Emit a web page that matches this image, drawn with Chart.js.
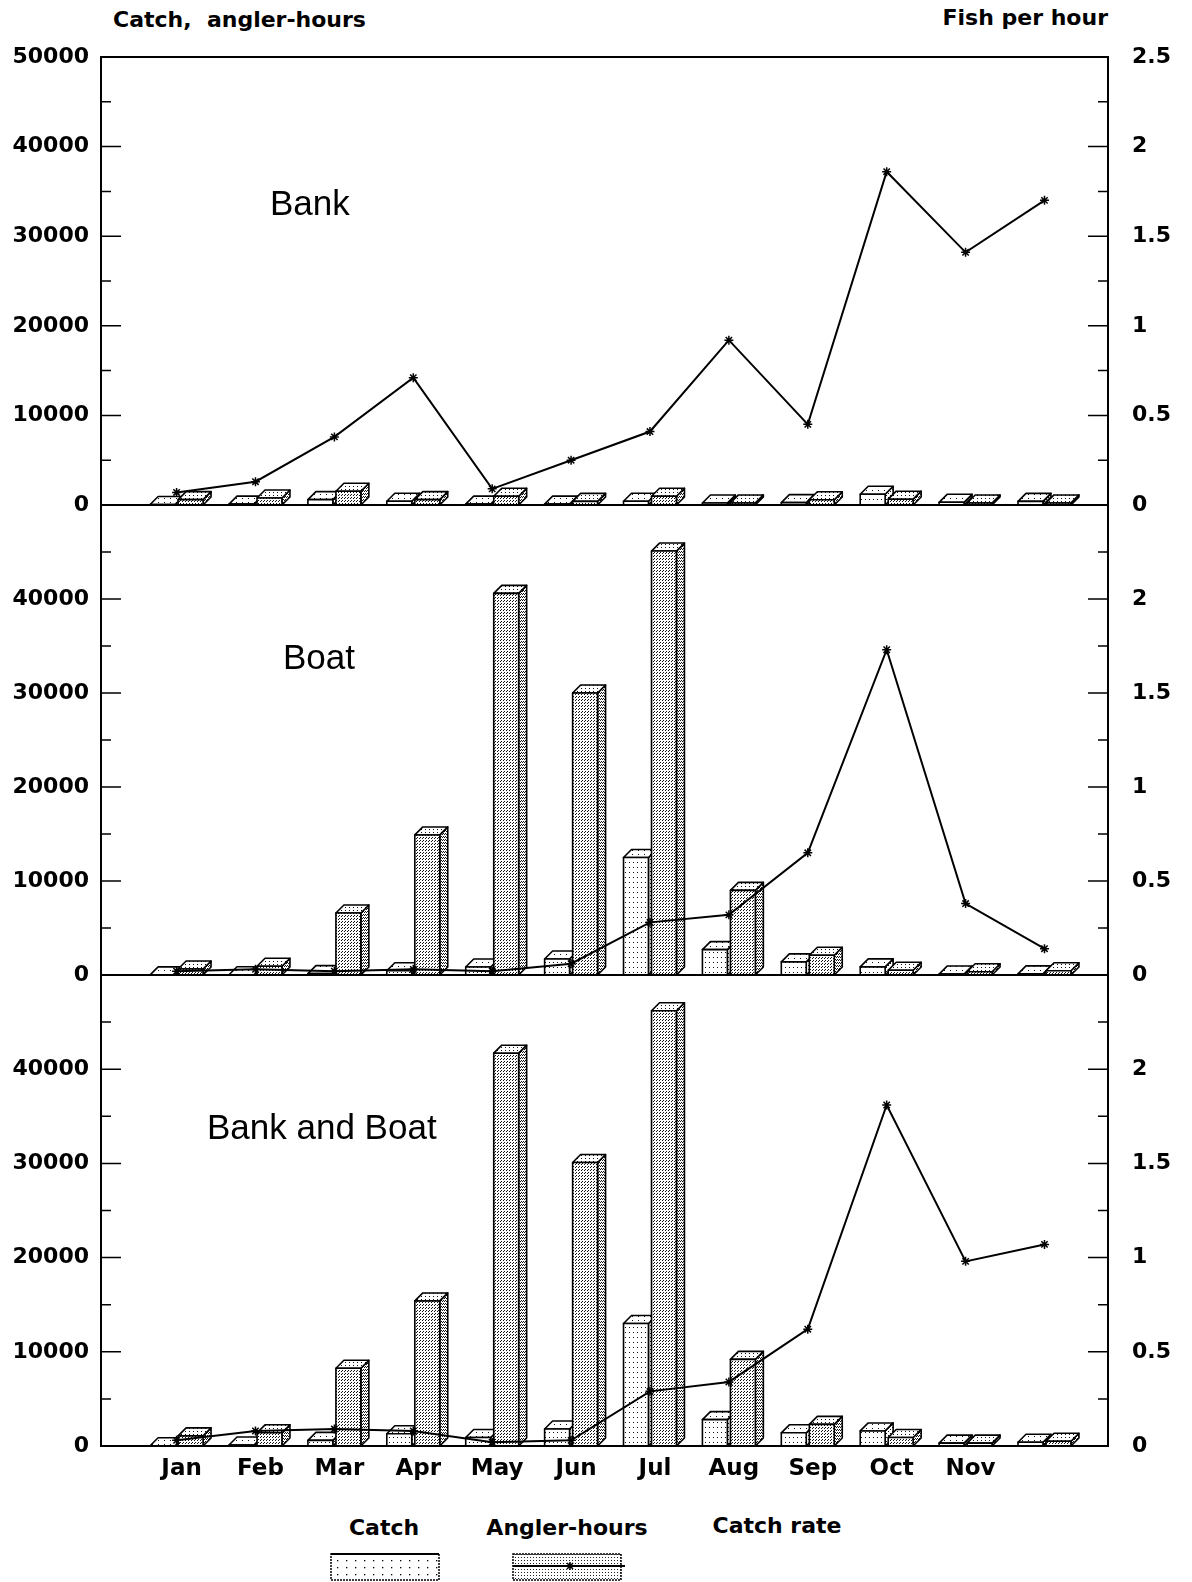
<!DOCTYPE html>
<html lang="en">
<head>
<meta charset="UTF-8" />
<title>Catch, angler-hours and catch rate by month</title>
<script src="https://cdn.jsdelivr.net/npm/chart.js"></script>
<style>
    body { margin: 0; background: #fff; }
    #page { position: relative; width: 1192px; height: 1582px; overflow: hidden; font-family: 'DejaVu Sans', sans-serif; color: #000; }
    .panel { position: absolute; left: 0; }
    .txt { position: absolute; white-space: pre; font-weight: bold; font-size: 22px; line-height: 30px; height: 30px; }
    .title { position: absolute; white-space: pre; font-family: 'Liberation Sans', Arial, sans-serif; font-size: 35px; line-height: 40px; height: 40px; }
</style>
</head>
<body>
<div id="page">
    <div class="txt" style="left:113px; top:5px;">Catch,  angler-hours</div>
    <div class="txt" style="right:84px; top:3px;">Fish per hour</div>

    <canvas id="bankChart" class="panel" width="1192" height="528" style="top:17px"></canvas>
    <canvas id="boatChart" class="panel" width="1192" height="550" style="top:465px"></canvas>
    <canvas id="allChart" class="panel" width="1192" height="561" style="top:935px"></canvas>

    <div class="title" style="left:270px; top:183px;">Bank</div>
    <div class="title" style="left:283px; top:637px;">Boat</div>
    <div class="title" style="left:207px; top:1107px;">Bank and Boat</div>

    <!-- legend -->
    <div class="txt" style="left:284px; width:200px; text-align:center; top:1513px;">Catch</div>
    <div class="txt" style="left:467px; width:200px; text-align:center; top:1513px;">Angler-hours</div>
    <div class="txt" style="left:677px; width:200px; text-align:center; top:1511px;">Catch rate</div>
    <svg style="position:absolute; left:325px; top:1550px;" width="310" height="32">
        <defs>
            <pattern id="dotsCatch" width="9" height="7" patternUnits="userSpaceOnUse">
                <rect x="3" y="3" width="1.3" height="1.3" fill="#000"/>
            </pattern>
            <pattern id="dotsAngler" width="3" height="3" patternUnits="userSpaceOnUse">
                <rect x="1" y="1" width="1" height="1" fill="#222"/>
            </pattern>
        </defs>
        <rect x="6" y="4" width="108" height="26" fill="url(#dotsCatch)" stroke="#000" stroke-width="1.5" stroke-dasharray="2 1"/>
        <line x1="6" y1="4" x2="114" y2="4" stroke="#000" stroke-width="2"/>
        <rect x="188" y="4" width="108" height="26" fill="url(#dotsAngler)" stroke="#000" stroke-width="1.5" stroke-dasharray="2 1"/>
        <line x1="188" y1="16" x2="300" y2="16" stroke="#000" stroke-width="2"/>
        <path d="M241 16 L249 16 M245 12 L245 20 M242 13 L248 19 M242 19 L248 13" stroke="#000" stroke-width="1.5"/>
    </svg>
</div>

<script>
    // months; the twelfth group carries no label in the original
    const months = ['Jan', 'Feb', 'Mar', 'Apr', 'May', 'Jun', 'Jul', 'Aug', 'Sep', 'Oct', 'Nov', ''];

    // Bank
    const bankCatch  = [50, 100, 600, 420, 100, 100, 420, 220, 260, 1200, 300, 400];
    const bankAngler = [600, 780, 1530, 600, 970, 400, 970, 230, 580, 650, 220, 230];
    const bankRate   = [0.07, 0.13, 0.38, 0.71, 0.09, 0.25, 0.41, 0.92, 0.45, 1.86, 1.41, 1.70];

    // Boat
    const boatCatch  = [15, 30, 150, 450, 850, 1700, 12500, 2700, 1400, 860, 100, 120];
    const boatAngler = [640, 925, 6600, 14900, 40600, 30000, 45100, 9000, 2100, 500, 350, 450];
    const boatRate   = [0.02, 0.03, 0.02, 0.03, 0.02, 0.06, 0.28, 0.32, 0.65, 1.73, 0.38, 0.14];

    // Bank and Boat
    const allCatch  = [30, 110, 600, 1300, 900, 1800, 13000, 2800, 1400, 1600, 300, 400];
    const allAngler = [1070, 1400, 8250, 15400, 41700, 30100, 46200, 9200, 2300, 900, 300, 500];
    const allRate   = [0.03, 0.08, 0.09, 0.08, 0.02, 0.03, 0.29, 0.34, 0.62, 1.81, 0.98, 1.07];

    // labelled ticks
    const leftTicks  = [0, 10000, 20000, 30000, 40000, 50000];
    const rightTicks = [0, 0.5, 1, 1.5, 2, 2.5];

    const DX = 8, DY = 8;   // 3d depth of the bars
    const tickFont = { family: 'DejaVu Sans', size: 22, weight: 'bold' };

    function dotPattern(ctx, w, h, dots) {
        const c = document.createElement('canvas');
        c.width = w; c.height = h;
        const g = c.getContext('2d');
        g.fillStyle = '#fff';
        g.fillRect(0, 0, w, h);
        g.fillStyle = '#111';
        dots.forEach(d => g.fillRect(d[0], d[1], 1, 1));
        return ctx.createPattern(c, 'repeat');
    }

    function face(ctx, pts, fill) {
        ctx.beginPath();
        ctx.moveTo(pts[0][0], pts[0][1]);
        for (let k = 1; k < pts.length; k++) ctx.lineTo(pts[k][0], pts[k][1]);
        ctx.closePath();
        ctx.fillStyle = fill;
        ctx.fill();
        ctx.stroke();
    }

    // draws the bars as boxes, from the geometry of the library's bar elements
    const boxes3d = {
        id: 'boxes3d',
        beforeDatasetsDraw(chart) {
            const ctx = chart.ctx;
            if (!chart.$fills) {
                chart.$fills = [
                    { front: dotPattern(ctx, 4, 5, [[1, 2]]), top: dotPattern(ctx, 6, 4, [[2, 1]]), side: dotPattern(ctx, 4, 4, [[0, 0], [2, 2]]) },
                    { front: dotPattern(ctx, 3, 3, [[0, 0], [2, 1]]), top: dotPattern(ctx, 4, 3, [[1, 1]]), side: dotPattern(ctx, 2, 3, [[0, 0], [1, 2]]) }
                ];
            }
            ctx.save();
            ctx.strokeStyle = '#000';
            ctx.lineWidth = 1.6;
            ctx.lineJoin = 'round';
            for (let i = 0; i < months.length; i++) {
                [0, 1].forEach(ds => {
                    const el = chart.getDatasetMeta(ds).data[i];
                    if (!el) return;
                    const p = el.getProps(['x', 'y', 'base', 'width'], true);
                    const x0 = p.x - p.width / 2, x1 = p.x + p.width / 2;
                    const top = Math.min(p.y, p.base), bot = p.base;
                    const f = chart.$fills[ds];
                    face(ctx, [[x1, bot], [x1 + DX, bot - DY], [x1 + DX, top - DY], [x1, top]], f.side);
                    face(ctx, [[x0, top], [x1, top], [x1 + DX, top - DY], [x0 + DX, top - DY]], f.top);
                    face(ctx, [[x0, bot], [x1, bot], [x1, top], [x0, top]], f.front);
                });
            }
            ctx.restore();
        }
    };

    // base line, top line and the inward tick marks
    const frame = {
        id: 'frame',
        afterDatasetsDraw(chart, args, opts) {
            const { ctx, chartArea: a, scales } = chart;
            ctx.save();
            ctx.strokeStyle = '#000';
            ctx.lineWidth = 2;
            ctx.beginPath();
            ctx.moveTo(a.left, a.bottom); ctx.lineTo(a.right, a.bottom);
            if (opts.top) { ctx.moveTo(a.left, a.top); ctx.lineTo(a.right, a.top); }
            ctx.stroke();
            ctx.lineWidth = 1.5;
            ctx.beginPath();
            scales.y.ticks.forEach(t => {
                if (t.value <= 0 || t.value >= 50000) return;
                const y = scales.y.getPixelForValue(t.value);
                const len = leftTicks.includes(t.value) ? 20 : 10;
                ctx.moveTo(a.left, y); ctx.lineTo(a.left + len, y);
            });
            scales.y1.ticks.forEach(t => {
                if (t.value <= 0 || t.value >= 2.5) return;
                const y = scales.y1.getPixelForValue(t.value);
                const len = rightTicks.some(r => Math.abs(r - t.value) < 1e-6) ? 20 : 10;
                ctx.moveTo(a.right, y); ctx.lineTo(a.right - len, y);
            });
            ctx.stroke();
            ctx.restore();
        }
    };

    function points(vals) {
        return vals.map((v, i) => ({ x: i, y: v }));
    }

    function makePanel(id, catchVals, anglerVals, rateVals, first, last) {
        new Chart(document.getElementById(id), {
            type: 'bar',
            data: {
                datasets: [
                    { label: 'Catch', data: points(catchVals), yAxisID: 'y', backgroundColor: 'rgba(0,0,0,0)', borderWidth: 0, order: 1, categoryPercentage: 0.71, barPercentage: 0.89 },
                    { label: 'Angler-hours', data: points(anglerVals), yAxisID: 'y', backgroundColor: 'rgba(0,0,0,0)', borderWidth: 0, order: 1, categoryPercentage: 0.71, barPercentage: 0.89 },
                    { type: 'line', label: 'Catch rate', data: points(rateVals), yAxisID: 'y1', order: 0, borderColor: '#000', borderWidth: 2, tension: 0,
                      pointStyle: 'star', pointRadius: 4.5, pointBorderWidth: 1.5, pointBorderColor: '#000', pointBackgroundColor: '#000' }
                ]
            },
            options: {
                responsive: false,
                animation: false,
                events: [],
                layout: { padding: { top: 40, bottom: last ? 0 : 40, left: 0, right: 0 } },
                plugins: {
                    legend: { display: false },
                    tooltip: { enabled: false },
                    frame: { top: first }
                },
                scales: {
                    x: {
                        type: 'linear',
                        display: last,
                        offset: false,
                        bounds: 'data',
                        min: -0.958,
                        max: 11.805,
                        grid: { display: false, drawTicks: false },
                        border: { display: true, color: '#000', width: 2 },
                        afterBuildTicks: scale => { scale.ticks = months.map((m, i) => ({ value: i })); },
                        afterFit: scale => { scale.height = last ? 50 : 0; },
                        ticks: {
                            autoSkip: false,
                            maxRotation: 0,
                            padding: 9,
                            labelOffset: 5,
                            color: '#000',
                            font: { family: 'DejaVu Sans', size: 23, weight: 'bold' },
                            callback: v => months[v] || ''
                        }
                    },
                    y: {
                        position: 'left',
                        min: 0,
                        max: 50000,
                        grid: { display: false, drawTicks: false },
                        border: { display: true, color: '#000', width: 2 },
                        afterFit: scale => { scale.width = 101; },
                        ticks: {
                            stepSize: 5000,
                            maxTicksLimit: 20,
                            autoSkip: false,
                            padding: 12,
                            color: '#000',
                            font: tickFont,
                            callback: v => (leftTicks.includes(v) && (first || v !== 50000)) ? String(v) : ''
                        }
                    },
                    y1: {
                        position: 'right',
                        min: 0,
                        max: 2.5,
                        grid: { display: false, drawTicks: false },
                        border: { display: true, color: '#000', width: 2 },
                        afterFit: scale => { scale.width = 84; },
                        ticks: {
                            stepSize: 0.25,
                            maxTicksLimit: 20,
                            autoSkip: false,
                            padding: 24,
                            color: '#000',
                            font: tickFont,
                            callback: v => {
                                const r = rightTicks.find(t => Math.abs(t - v) < 1e-6);
                                if (r === undefined || (!first && r === 2.5)) return '';
                                return String(r);
                            }
                        }
                    }
                }
            },
            plugins: [boxes3d, frame]
        });
    }

    makePanel('bankChart', bankCatch, bankAngler, bankRate, true, false);
    makePanel('boatChart', boatCatch, boatAngler, boatRate, false, false);
    makePanel('allChart', allCatch, allAngler, allRate, false, true);
</script>
</body>
</html>
